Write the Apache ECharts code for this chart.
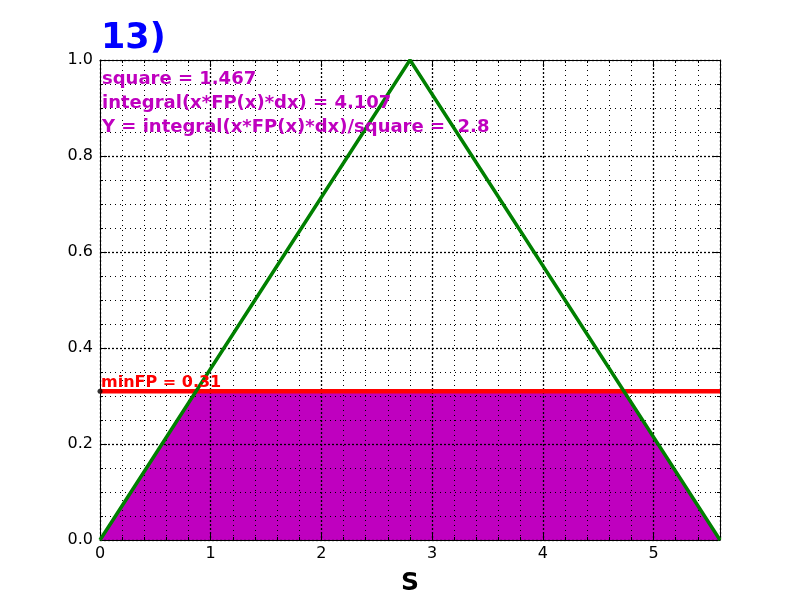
<!DOCTYPE html>
<html>
<head>
<meta charset="utf-8">
<script src="https://cdn.jsdelivr.net/npm/echarts@6/dist/echarts.min.js"></script>
<style>html,body{margin:0;padding:0;background:#fff}#c{width:800px;height:600px}</style>
</head>
<body>
<div id="c"></div>
<script>
// Data
const fpX = [0, 2.8, 5.6];
const fpY = [0, 1, 0];
const fillX = [0, 0.868, 4.732, 5.6];
const fillY = [0, 0.31, 0.31, 0];
const minFP = 0.31;
const minX = [0, 5.6];
const titleText = '13)';
const infoLines = ['square = 1.467', 'integral(x*FP(x)*dx) = 4.107', 'Y = integral(x*FP(x)*dx)/square =  2.8'];
const minLabel = 'minFP = 0.31';
const xName = 'S';

const FONT = 'DejaVu Sans';
const MAG = '#bf00bf';

const chart = echarts.init(document.getElementById('c'), null, {renderer: 'canvas'});

const majorGrid = {show: true, lineStyle: {color: '#000', width: 1.3, type: [2, 2]}};
const minorGrid = {show: true, lineStyle: {color: '#000', width: 1, type: [1, 4]}};

function xAx(pos, labels) {
  return {
    type: 'value', position: pos, min: 0, max: 5.6, interval: 1, z: 3,
    axisLine: {show: true, onZero: false, lineStyle: {color: '#000', width: 1}},
    axisTick: {show: true, inside: true, length: 7, lineStyle: {color: '#000'}},
    minorTick: {show: true, splitNumber: 5, length: 3, lineStyle: {color: '#000'}},
    splitLine: labels ? majorGrid : {show: false},
    minorSplitLine: labels ? minorGrid : {show: false},
    axisLabel: {show: labels, showMaxLabel: false, color: '#000', fontFamily: FONT, fontSize: 16, margin: 6},
    name: labels ? xName : '', nameLocation: 'middle', nameGap: 31,
    nameTextStyle: {fontFamily: FONT, fontWeight: 'bold', fontSize: 25, color: '#000'}
  };
}
function yAx(pos, labels) {
  return {
    type: 'value', position: pos, min: 0, max: 1, interval: 0.2, z: 3,
    axisLine: {show: true, onZero: false, lineStyle: {color: '#000', width: 1}},
    axisTick: {show: true, inside: true, length: 7, lineStyle: {color: '#000'}},
    minorTick: {show: true, splitNumber: 4, length: 3, lineStyle: {color: '#000'}},
    splitLine: labels ? majorGrid : {show: false},
    minorSplitLine: labels ? minorGrid : {show: false},
    axisLabel: {show: labels, color: '#000', fontFamily: FONT, fontSize: 16, margin: 7,
      formatter: v => v.toFixed(1)}
  };
}

const option = {
  animation: false,
  grid: {left: 100, right: 80, top: 60, bottom: 60, containLabel: false, outerBoundsMode: 'none'},
  xAxis: [xAx('bottom', true), xAx('top', false)],
  yAxis: [yAx('left', true), yAx('right', false)],
  series: [
    {
      type: 'line', z: 1, silent: true, symbol: 'none',
      data: fillX.map((x, i) => [x, fillY[i]]),
      lineStyle: {width: 0},
      areaStyle: {color: MAG, opacity: 1, origin: 'start'}
    },
    {
      type: 'line', z: 5, symbol: 'none',
      data: minX.map(x => [x, minFP]),
      lineStyle: {color: '#ff0000', width: 4.5}
    },
    {
      type: 'scatter', z: 6, symbol: 'circle', symbolSize: 5,
      data: [[0, minFP]], itemStyle: {color: '#000'}
    },
    {
      type: 'line', z: 6, symbol: 'none',
      data: fpX.map((x, i) => [x, fpY[i]]),
      lineStyle: {color: '#008000', width: 3.5}
    }
  ],
  graphic: [
    {type: 'text', left: 101, top: 21, z: 10,
      style: {text: titleText, fill: '#0000ff', font: 'bold 35px "DejaVu Sans"'}},
    ...infoLines.map((t, i) => ({
      type: 'text', left: 102, top: 70 + 24 * i, z: 10,
      style: {text: t, fill: MAG, font: 'bold 18px "DejaVu Sans"'}
    })),
    {type: 'text', left: 101, top: 375, z: 10,
      style: {text: minLabel, fill: '#ff0000', font: 'bold 16px "DejaVu Sans"'}}
  ]
};
chart.setOption(option);
</script>
</body>
</html>
